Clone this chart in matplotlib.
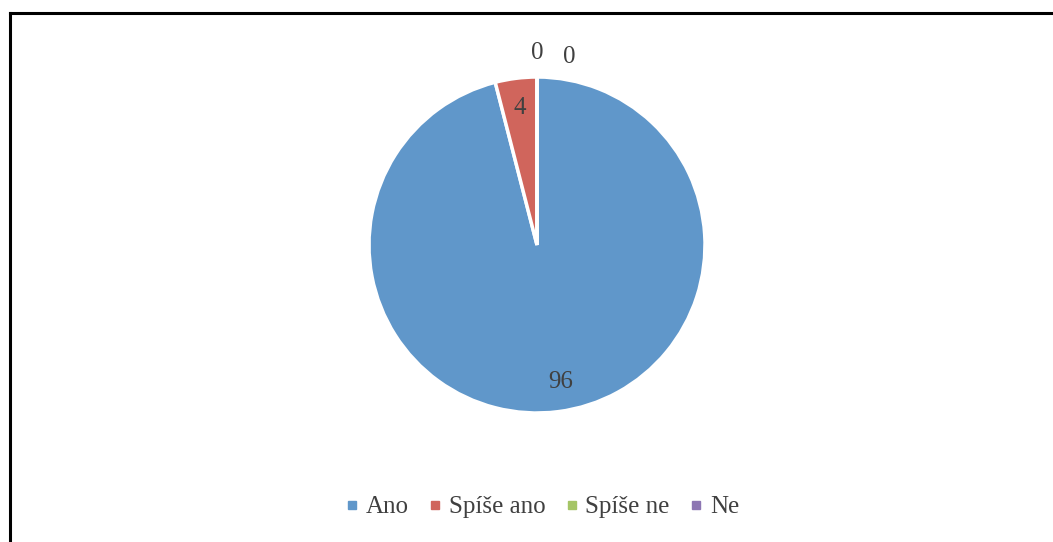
import matplotlib
matplotlib.use("Agg")
import matplotlib.pyplot as plt
from matplotlib.lines import Line2D
import numpy as np

categories = ["Ano", "Spíše ano", "Spíše ne", "Ne"]
values = [96, 4, 0, 0]
colors = ["#6097CA", "#D0655C", "#A5C566", "#8D76B3"]
text_color = "#404040"

W, H = 1053, 542
fig = plt.figure(figsize=(W / 100, H / 100), dpi=100)
plt.rcParams["font.family"] = ["Liberation Serif", "DejaVu Serif"]

# pie axes: centre (537, 245) px, radius 168 px
cx, cy, r = 537, 245, 168
ax = fig.add_axes([(cx - r) / W, (H - cy - r) / H, 2 * r / W, 2 * r / H])
wedges, _ = ax.pie(values, colors=colors, startangle=90, counterclock=False,
                   wedgeprops=dict(edgecolor="white", linewidth=2.5))
ax.set_xlim(-1, 1)
ax.set_ylim(-1, 1)
ax.set_aspect("equal")
ax.axis("off")

# data labels
zero_idx = 0
for w, v in zip(wedges, values):
    mid = np.deg2rad((w.theta1 + w.theta2) / 2)
    if v > 0:
        x, y = 0.82 * np.cos(mid), 0.82 * np.sin(mid)
        if v > 50:
            x += 0.04
        ax.text(x, y, str(v), ha="center", va="center", fontsize=18,
                color=text_color, clip_on=False)
    else:
        x = 0.0 + zero_idx * 0.19
        y = 1.14 - zero_idx * 0.02
        ax.text(x, y, str(v), ha="center", va="center", fontsize=18,
                color=text_color, clip_on=False)
        zero_idx += 1

# legend
handles = [Line2D([0], [0], marker="s", linestyle="none", markersize=6,
                  markerfacecolor=c, markeredgecolor=c) for c in colors]
fig.legend(handles, categories, loc="center", ncol=4, frameon=False,
           bbox_to_anchor=(543 / W, 1 - 507 / H), fontsize=18,
           labelcolor=text_color, handlelength=0.4, handletextpad=0.35,
           columnspacing=0.85, borderpad=0)

# chart frame
fig.add_artist(Line2D([10 / W, 10 / W], [0, 1 - 12.5 / H], transform=fig.transFigure,
                      color="black", linewidth=2.2, solid_capstyle="projecting"))
fig.add_artist(Line2D([10 / W, 1], [1 - 12.5 / H, 1 - 12.5 / H], transform=fig.transFigure,
                      color="black", linewidth=2.2, solid_capstyle="projecting"))

fig.savefig("out.png", dpi=100, facecolor="white")
